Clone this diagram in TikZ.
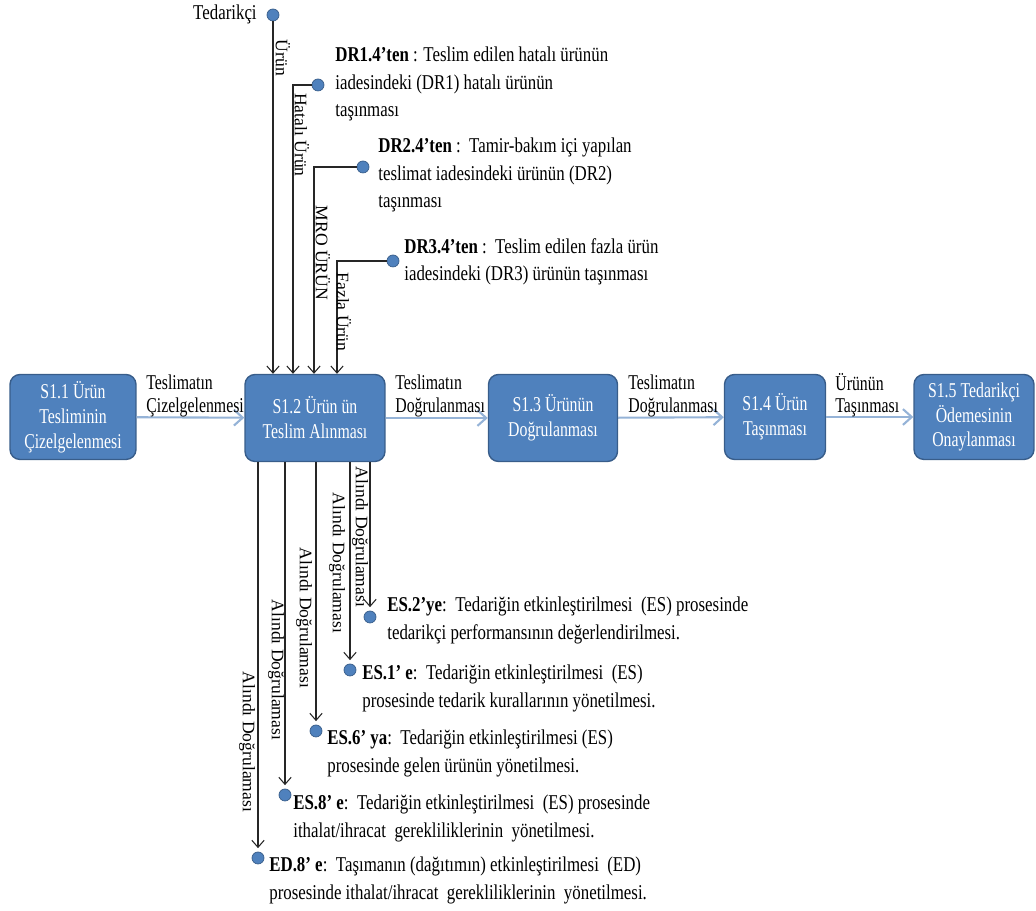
\documentclass[tikz,border=0pt]{standalone}
\usepackage{fontspec}
\setmainfont{Liberation Serif}
\newfontfamily\narrowfont{Liberation Serif}[FakeStretch=0.75]
\newfontfamily\notefont{Liberation Serif}[FakeStretch=0.8]
\usetikzlibrary{arrows.meta, calc, positioning}

\definecolor{boxblue}{HTML}{4F81BD}
\definecolor{boxedge}{HTML}{385D8A}
\definecolor{flowblue}{HTML}{95B3D7}

\tikzset{
    proc/.style={draw=boxedge, fill=boxblue, line width=0.8pt, rounded corners=0.2cm,
        text=white, align=center, inner sep=0pt,
        font=\narrowfont\fontsize{12}{14.2}\selectfont},
    flow/.style={draw=flowblue, line width=1.2pt, -{Straight Barb[length=5pt, width=9pt]}},
    feed/.style={draw=black!85, line width=0.6pt, -{Straight Barb[length=4pt, width=7pt]}},
    dot/.style={circle, fill=boxblue, draw=boxedge, line width=0.4pt, inner sep=0pt, minimum size=0.24cm},
    note/.style={anchor=north west, align=left, inner sep=0pt,
        font=\notefont\fontsize{12}{15.4}\selectfont},
    flowlbl/.style={anchor=south west, align=left, inner sep=0pt,
        font=\narrowfont\fontsize{12}{12.6}\selectfont},
    vlbl/.style={rotate=-90, inner sep=0pt, font=\fontsize{10}{12}\selectfont}
}

\begin{document}
\begin{tikzpicture}[x=0.02cm, y=-0.02cm]
    \useasboundingbox (0, 0) rectangle (1036, 911);

    % process boxes
    \node[proc, minimum width=2.52cm, minimum height=1.7cm] (s11) at (73, 417) {S1.1 Ürün\\Tesliminin\\Çizelgelenmesi};
    \node[proc, minimum width=2.8cm, minimum height=1.74cm] (s12) at (315, 418) {S1.2 Ürün ün\\Teslim Alınması};
    \node[proc, minimum width=2.58cm, minimum height=1.74cm] (s13) at (553, 418) {S1.3 Ürünün\\Doğrulanması};
    \node[proc, minimum width=2.02cm, minimum height=1.7cm] (s14) at (775, 417) {S1.4 Ürün\\Taşınması};
    \node[proc, minimum width=2.4cm, minimum height=1.7cm] (s15) at (974, 417) {S1.5 Tedarikçi\\Ödemesinin\\Onaylanması};

    \draw[flow] (s11) -- (s12);
    \draw[flow] (s12) -- (s13);
    \draw[flow] (s13) -- (s14);
    \draw[flow] (s14) -- (s15);

    \node[flowlbl] (f1) at (146, 417) {Teslimatın\\Çizelgelenmesi};
    \node[flowlbl] (f2) at (395, 417) {Teslimatın\\Doğrulanması};
    \node[flowlbl] (f3) at (628, 417) {Teslimatın\\Doğrulanması};
    \node[flowlbl] (f4) at (835, 417) {Ürünün\\Taşınması};

    % inputs from above
    \node[dot] (ted) at (273, 15) {};
    \node[dot] (dr1) at (318, 85) {};
    \node[dot] (dr2) at (363, 167) {};
    \node[dot] (dr3) at (393, 261) {};

    \node[note, anchor=east] (tedt) at (257, 14) {Tedarikçi};
    \node[note] (dr1t) at (335, 47) {\textbf{DR1.4’ten} : Teslim edilen hatalı ürünün\\iadesindeki (DR1) hatalı ürünün\\taşınması};
    \node[note] (dr2t) at (378, 138) {\textbf{DR2.4’ten} :\ \ Tamir-bakım içi yapılan\\teslimat iadesindeki ürünün (DR2)\\taşınması};
    \node[note] (dr3t) at (404, 238) {\textbf{DR3.4’ten} :\ \ Teslim edilen fazla ürün\\iadesindeki (DR3) ürünün taşınması};

    \draw[feed] (ted.south) -- (s12.north -| ted);
    \draw[feed] (dr1.west) -| ($(s12.north)+(-22, 0)$);
    \draw[feed] (dr2.west) -| ($(s12.north)+(-1, 0)$);
    \draw[feed] (dr3.west) -| ($(s12.north)+(22, 0)$);

    \node[vlbl] (l1) at (283, 58) {Ürün};
    \node[vlbl] (l2) at (302, 135) {Hatalı Ürün};
    \node[vlbl] (l3) at (323, 253) {MRO ÜRÜN};
    \node[vlbl] (l4) at (344, 312) {Fazla Ürün};

    % outputs below
    \node[dot] (es2) at (370, 617) {};
    \node[dot] (es1) at (350, 670) {};
    \node[dot] (es6) at (316, 731) {};
    \node[dot] (es8) at (285, 795) {};
    \node[dot] (ed8) at (258, 858) {};

    \draw[feed, shorten >=2pt] (s12.south -| es2) -- (es2.north);
    \draw[feed, shorten >=2pt] (s12.south -| es1) -- (es1.north);
    \draw[feed, shorten >=2pt] (s12.south -| es6) -- (es6.north);
    \draw[feed, shorten >=2pt] (s12.south -| es8) -- (es8.north);
    \draw[feed, shorten >=2pt] (s12.south -| ed8) -- (ed8.north);

    \node[vlbl] (b1) at (360, 537) {Alındı Doğrulaması};
    \node[vlbl] (b2) at (337, 563) {Alındı Doğrulaması};
    \node[vlbl] (b3) at (304, 618) {Alındı Doğrulaması};
    \node[vlbl] (b4) at (276, 670) {Alındı Doğrulaması};
    \node[vlbl] (b5) at (247, 742) {Alındı Doğrulaması};

    \node[note] (es2t) at (387, 597) {\textbf{ES.2’ye}:\ \ Tedariğin etkinleştirilmesi\ \ (ES) prosesinde\\tedarikçi performansının değerlendirilmesi.};
    \node[note] (es1t) at (362, 665) {\textbf{ES.1’ e}:\ \ Tedariğin etkinleştirilmesi\ \ (ES)\\prosesinde tedarik kurallarının\ yönetilmesi.};
    \node[note] (es6t) at (327, 730) {\textbf{ES.6’ ya}:\ \ Tedariğin etkinleştirilmesi\ (ES)\\prosesinde gelen ürünün yönetilmesi.};
    \node[note] (es8t) at (293, 795) {\textbf{ES.8’ e}:\ \ Tedariğin etkinleştirilmesi\ \ (ES) prosesinde\\ithalat/ihracat\ \ gerekliliklerinin\ \ yönetilmesi.};
    \node[note] (ed8t) at (269, 857) {\textbf{ED.8’ e}:\ \ Taşımanın (dağıtımın) etkinleştirilmesi\ \ (ED)\\prosesinde ithalat/ihracat\ \ gerekliliklerinin\ \ yönetilmesi.};
\end{tikzpicture}
\end{document}
